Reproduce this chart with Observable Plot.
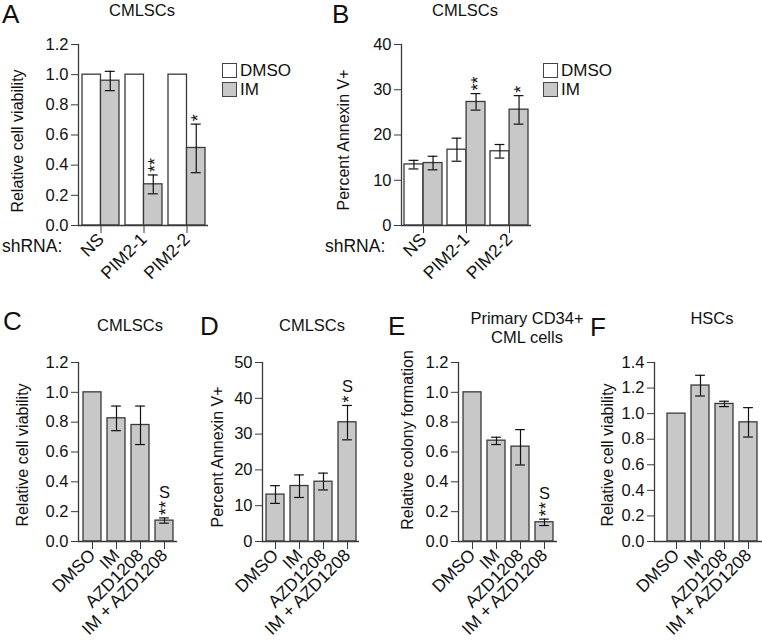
<!DOCTYPE html>
<html>
<head>
<meta charset="utf-8">
<script src="https://cdn.jsdelivr.net/npm/d3@7"></script>
<script src="https://cdn.jsdelivr.net/npm/@observablehq/plot@0.6"></script>
<style>
  html, body { margin: 0; padding: 0; background: #fff; overflow: hidden; }
  #fig { position: relative; width: 762px; height: 642px; overflow: hidden; font-family: "Liberation Sans", Arial, sans-serif; color: #111; }
  #fig svg { position: absolute; overflow: visible; }
  .lbl { position: absolute; white-space: nowrap; transform: translate(-50%, -50%); text-align: center; }
  .letter { position: absolute; font-size: 26px; line-height: 1; }
  .leg { position: absolute; font-size: 17px; line-height: 1; }
  .leg .row { display: flex; align-items: center; height: 19px; }
  .leg .sw { width: 13px; height: 13px; border: 1.2px solid #444; margin-right: 3px; box-sizing: content-box; }
</style>
</head>
<body>
<div id="fig"></div>
<script>
// ---------------- DATA ----------------
const shRNA = ["NS", "PIM2-1", "PIM2-2"];
const series = ["DMSO", "IM"];
const seriesFill = ["#ffffff", "#c8c8c8"];

// Panel A: relative cell viability, CMLSCs
const aDmso = [1.0, 1.0, 1.0];
const aIm = [0.96, 0.273, 0.514];
const aImLo = [0.894, 0.21, 0.35];
const aImHi = [1.022, 0.335, 0.672];
const aImSig = ["", "**", "*"];

// Panel B: percent Annexin V+, CMLSCs
const bDmso = [13.5, 16.75, 16.4];
const bDmsoLo = [12.5, 14.2, 14.9];
const bDmsoHi = [14.4, 19.3, 17.9];
const bIm = [13.8, 27.3, 25.6];
const bImLo = [12.3, 25.5, 22.4];
const bImHi = [15.3, 29.15, 28.7];
const bImSig = ["", "**", "*"];

const treatments = ["DMSO", "IM", "AZD1208", "IM + AZD1208"];

// Panel C: relative cell viability, CMLSCs
const cVal = [1.0, 0.826, 0.781, 0.14];
const cLo = [null, 0.743, 0.65, 0.123];
const cHi = [null, 0.908, 0.908, 0.158];
const cSig = ["", "", "", "**"];
const cSec = ["", "", "", "S"];

// Panel D: percent Annexin V+, CMLSCs
const dVal = [13.1, 15.5, 16.7, 33.3];
const dLo = [10.65, 12.3, 14.4, 28.4];
const dHi = [15.6, 18.6, 19.1, 38.0];
const dSig = ["", "", "", "*"];
const dSec = ["", "", "", "S"];

// Panel E: relative colony formation, primary CD34+ CML cells
const eVal = [1.0, 0.676, 0.636, 0.129];
const eLo = [null, 0.65, 0.513, 0.107];
const eHi = [null, 0.699, 0.75, 0.15];
const eSig = ["", "", "", "**"];
const eSec = ["", "", "", "S"];

// Panel F: relative cell viability, HSCs
const fVal = [1.0, 1.22, 1.076, 0.932];
const fLo = [null, 1.138, 1.055, 0.817];
const fHi = [null, 1.30, 1.097, 1.047];

const ticks12 = [0, 0.2, 0.4, 0.6, 0.8, 1.0, 1.2];
const ticks14 = [0, 0.2, 0.4, 0.6, 0.8, 1.0, 1.2, 1.4];
const ticks40 = [0, 10, 20, 30, 40];
const ticks50 = [0, 10, 20, 30, 40, 50];

// ---------------- HELPERS ----------------
const FONT = "'Liberation Sans', Arial, sans-serif";
const fig = document.getElementById("fig");
const STROKE = "#3a3a3a";
const STAR = 18;        // star font size
const STAR_SHIFT = 2;   // horizontal centring of rotated asterisks

function bandwidth(o, n) {
  const inner = o.width - o.marginLeft - o.marginRight;
  const step = inner / (n - o.paddingInner + 2 * o.paddingOuter);
  return step * (1 - o.paddingInner);
}

function starMark(rows, y, dx) {
  // asterisks stacked vertically: one text, rotated to run upward
  return Plot.text(rows, { x: "group", y, text: d => d.sig, rotate: -90, textAnchor: "start", lineAnchor: "middle",
    dx: dx + STAR_SHIFT, dy: -3, fontSize: STAR, fill: "#111" });
}

function basePlot(o, marks) {
  const p = Plot.plot({
    width: o.width, height: o.height,
    marginLeft: o.marginLeft, marginRight: o.marginRight,
    marginTop: o.marginTop, marginBottom: o.marginBottom,
    style: { fontFamily: FONT, fontSize: "16.5px", color: "#111", background: "none", overflow: "visible" },
    x: { domain: o.xDomain, paddingInner: o.paddingInner, paddingOuter: o.paddingOuter, align: o.align ?? 0.5, label: null },
    y: { domain: o.yDomain, label: null },
    marks: [
      ...marks,
      Plot.ruleY([0], { stroke: STROKE, strokeWidth: 1.3 }),
      Plot.frame({ anchor: "left", stroke: STROKE, strokeWidth: 1.3 }),
      Plot.axisY({ ticks: o.yTicks, tickFormat: o.yFormat, tickSize: 7, tickPadding: 3, label: null, stroke: STROKE, fill: "#111" }),
      Plot.axisX({ tickRotate: -45, tickSize: 8, tickPadding: 3, label: null, fontSize: 17.5, stroke: STROKE, fill: "#111" }),
      Plot.text([o.ylabel], { frameAnchor: "left", rotate: -90, dx: o.ylabelDx, dy: o.ylabelDy, fontSize: 16, fill: "#111", textAnchor: "middle", lineAnchor: "middle" })
    ]
  });
  p.style.left = o.left + "px";
  p.style.top = o.top + "px";
  fig.appendChild(p);
  return p;
}

function groupedPanel(o, rows) {
  const bw = bandwidth(o, o.xDomain.length);
  const half = bw / 2, q = bw / 4, cap = 5;
  const e0 = rows.filter(d => d.lo0 != null), e1 = rows.filter(d => d.lo1 != null);
  const errStyle = { stroke: "#111", strokeWidth: 1.2 };
  const marks = [
    Plot.barY(rows, { x: "group", y: "v0", fill: seriesFill[0], stroke: STROKE, strokeWidth: 1.3, insetRight: half }),
    Plot.barY(rows, { x: "group", y: "v1", fill: seriesFill[1], stroke: STROKE, strokeWidth: 1.3, insetLeft: half }),
    Plot.ruleX(e0, { x: "group", y1: "lo0", y2: "hi0", dx: -q, ...errStyle }),
    Plot.tickY(e0, { x: "group", y: "lo0", insetLeft: q - cap, insetRight: bw - q - cap, ...errStyle }),
    Plot.tickY(e0, { x: "group", y: "hi0", insetLeft: q - cap, insetRight: bw - q - cap, ...errStyle }),
    Plot.ruleX(e1, { x: "group", y1: "lo1", y2: "hi1", dx: q, ...errStyle }),
    Plot.tickY(e1, { x: "group", y: "lo1", insetLeft: bw - q - cap, insetRight: q - cap, ...errStyle }),
    Plot.tickY(e1, { x: "group", y: "hi1", insetLeft: bw - q - cap, insetRight: q - cap, ...errStyle }),
    starMark(rows.filter(d => d.sig), "hi1", q)
  ];
  return basePlot(o, marks);
}

function singlePanel(o, rows) {
  const cap = 5;
  const bw = bandwidth(o, o.xDomain.length);
  const withErr = rows.filter(d => d.lo != null);
  const sigRows = rows.filter(d => d.sig);
  const nStars = d3.max(sigRows, d => d.sig.length) || 0;
  const errStyle = { stroke: "#111", strokeWidth: 1.2 };
  const marks = [
    Plot.barY(rows, { x: "group", y: "v", fill: "#c8c8c8", stroke: STROKE, strokeWidth: 1.3 }),
    Plot.ruleX(withErr, { x: "group", y1: "lo", y2: "hi", ...errStyle }),
    Plot.tickY(withErr, { x: "group", y: "lo", insetLeft: bw / 2 - cap, insetRight: bw / 2 - cap, ...errStyle }),
    Plot.tickY(withErr, { x: "group", y: "hi", insetLeft: bw / 2 - cap, insetRight: bw / 2 - cap, ...errStyle }),
    starMark(sigRows, "hi", 0),
    Plot.text(rows.filter(d => d.sec), { x: "group", y: "hi", text: "sec", dy: -6 - 7 * nStars, lineAnchor: "bottom", fontSize: 16.5, fill: "#111" })
  ];
  return basePlot(o, marks);
}

function addText(cls, html, x, y, extra = {}) {
  const el = document.createElement("div");
  el.className = cls;
  el.innerHTML = html;
  el.style.left = x + "px";
  el.style.top = y + "px";
  Object.assign(el.style, extra);
  fig.appendChild(el);
  return el;
}

function legend(x, y) {
  const el = document.createElement("div");
  el.className = "leg";
  el.style.left = x + "px";
  el.style.top = y + "px";
  series.forEach((s, i) => {
    const r = document.createElement("div");
    r.className = "row";
    const sw = document.createElement("div");
    sw.className = "sw";
    sw.style.background = seriesFill[i];
    r.appendChild(sw);
    r.appendChild(document.createTextNode(s));
    el.appendChild(r);
  });
  fig.appendChild(el);
}

// ---------------- PANELS ----------------
const rowsA = shRNA.map((g, i) => ({ group: g, v0: aDmso[i], lo0: null, hi0: null, v1: aIm[i], lo1: aImLo[i], hi1: aImHi[i], sig: aImSig[i] }));
groupedPanel({
  left: 0, top: 0, width: 215, height: 300, marginLeft: 78, marginRight: 7, marginTop: 44, marginBottom: 75,
  xDomain: shRNA, paddingInner: 0.14, paddingOuter: 0.08,
  yDomain: [0, 1.2], yTicks: ticks12, yFormat: ".1f",
  ylabel: "Relative cell viability", ylabelDx: -61, ylabelDy: 6
}, rowsA);

const rowsB = shRNA.map((g, i) => ({ group: g, v0: bDmso[i], lo0: bDmsoLo[i], hi0: bDmsoHi[i], v1: bIm[i], lo1: bImLo[i], hi1: bImHi[i], sig: bImSig[i] }));
groupedPanel({
  left: 330, top: 0, width: 210, height: 300, marginLeft: 71, marginRight: 9, marginTop: 44, marginBottom: 75,
  xDomain: shRNA, paddingInner: 0.126, paddingOuter: 0.05,
  yDomain: [0, 40], yTicks: ticks40, yFormat: "d",
  ylabel: "Percent Annexin V+", ylabelDx: -58, ylabelDy: 5
}, rowsB);

const mkRows = (v, lo, hi, sig, sec) => treatments.map((g, i) => ({ group: g, v: v[i], lo: lo[i], hi: hi[i], sig: sig ? sig[i] : "", sec: sec ? sec[i] : "" }));

singlePanel({
  left: 0, top: 300, width: 190, height: 342, marginLeft: 78, marginRight: 13, marginTop: 62, marginBottom: 101,
  xDomain: treatments, paddingInner: 0.25, paddingOuter: 0.16,
  yDomain: [0, 1.2], yTicks: ticks12, yFormat: ".1f",
  ylabel: "Relative cell viability", ylabelDx: -56, ylabelDy: 3
}, mkRows(cVal, cLo, cHi, cSig, cSec));

singlePanel({
  left: 190, top: 300, width: 190, height: 342, marginLeft: 72, marginRight: 21, marginTop: 62, marginBottom: 101,
  xDomain: treatments, paddingInner: 0.25, paddingOuter: 0.12,
  yDomain: [0, 50], yTicks: ticks50, yFormat: "d",
  ylabel: "Percent Annexin V+", ylabelDx: -45, ylabelDy: 5
}, mkRows(dVal, dLo, dHi, dSig, dSec));

singlePanel({
  left: 380, top: 300, width: 190, height: 342, marginLeft: 78, marginRight: 13, marginTop: 62, marginBottom: 101,
  xDomain: treatments, paddingInner: 0.25, paddingOuter: 0.16,
  yDomain: [0, 1.2], yTicks: ticks12, yFormat: ".1f",
  ylabel: "Relative colony formation", ylabelDx: -51, ylabelDy: -12
}, mkRows(eVal, eLo, eHi, eSig, eSec));

singlePanel({
  left: 570, top: 300, width: 192, height: 342, marginLeft: 84, marginRight: 0, marginTop: 62, marginBottom: 101,
  xDomain: treatments, paddingInner: 0.25, paddingOuter: 0.347, align: 0.7,
  yDomain: [0, 1.4], yTicks: ticks14, yFormat: ".1f",
  ylabel: "Relative cell viability", ylabelDx: -47, ylabelDy: 3
}, mkRows(fVal, fLo, fHi, null, null));

// ---------------- TEXT OVERLAYS ----------------
const titleStyle = { fontSize: "16.5px", lineHeight: "15px" };
addText("lbl", "CMLSCs", 142, 10, titleStyle);
addText("lbl", "CMLSCs", 465, 10, titleStyle);
addText("lbl", "CMLSCs", 130, 325, titleStyle);
addText("lbl", "CMLSCs", 312, 325, titleStyle);
addText("lbl", "Primary CD34+", 527, 318, titleStyle);
addText("lbl", "CML cells", 527, 337, titleStyle);
addText("lbl", "HSCs", 712, 318, titleStyle);

addText("letter", "A", 2, 1);
addText("letter", "B", 332, 1);
addText("letter", "C", 3, 308);
addText("letter", "D", 200, 313);
addText("letter", "E", 388, 313);
addText("letter", "F", 590, 314);

addText("leg", "shRNA:", 2, 238, { fontSize: "17.5px" });
addText("leg", "shRNA:", 325, 238, { fontSize: "17.5px" });

legend(222, 61);
legend(543, 61);
</script>
</body>
</html>
